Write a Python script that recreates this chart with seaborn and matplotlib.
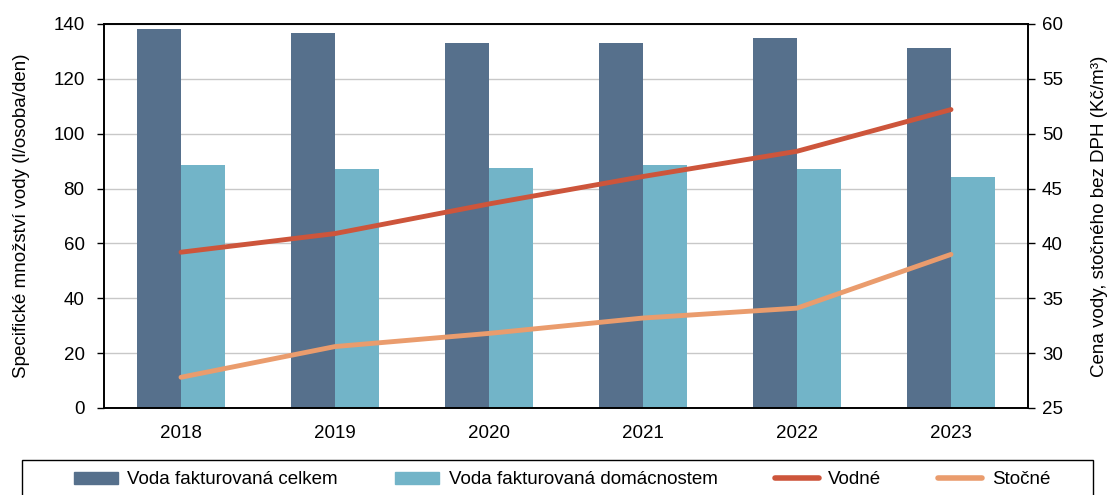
import pandas as pd
import matplotlib
matplotlib.use("Agg")
import matplotlib.pyplot as plt
from matplotlib.ticker import FixedLocator
import seaborn as sns

# data
years = ["2018", "2019", "2020", "2021", "2022", "2023"]
celkem = [138.2, 136.7, 133.0, 133.0, 134.9, 131.2]
domacnosti = [88.6, 87.1, 87.5, 88.6, 87.1, 84.2]
vodne = [39.2, 40.9, 43.6, 46.1, 48.4, 52.2]
stocne = [27.8, 30.6, 31.8, 33.2, 34.1, 39.0]

bar_labels = ["Voda fakturovaná celkem", "Voda fakturovaná domácnostem"]
line_labels = ["Vodné", "Stočné"]
colors = ["#56708C", "#72B4C8", "#CD553B", "#EA9C6D"]

sns.set_theme(style="white")
plt.rcParams['font.family'] = ['Liberation Sans', 'DejaVu Sans']
plt.rcParams['font.size'] = 13.5
plt.rcParams['text.color'] = 'black'
plt.rcParams['axes.labelcolor'] = 'black'
plt.rcParams['xtick.color'] = 'black'
plt.rcParams['ytick.color'] = 'black'

bars = pd.DataFrame({
    "rok": years * 2,
    "hodnota": celkem + domacnosti,
    "serie": [bar_labels[0]] * 6 + [bar_labels[1]] * 6,
})

fig = plt.figure(figsize=(11.15, 4.95), dpi=100)
ax = fig.add_axes([104 / 1115, 1 - 408 / 495, 924 / 1115, 384 / 495])

sns.barplot(data=bars, x="rok", y="hodnota", hue="serie",
            palette=colors[:2], width=0.57, gap=0, saturation=1,
            linewidth=0, ax=ax, legend=False, zorder=2)

ax.set_ylim(0, 140)
ax.set_yticks(range(0, 141, 20))
ax.set_xlim(-0.5, 5.5)
ax.yaxis.grid(True, color="#C8C8C8", lw=1, zorder=0)
ax.set_axisbelow(True)
ax.set_xlabel("")
ax.set_ylabel("Specifické množství vody (l/osoba/den)", fontsize=13.5, labelpad=17)

# x ticks at category borders, labels at centres
ax.xaxis.set_minor_locator(FixedLocator([i - 0.5 for i in range(7)]))
ax.tick_params(axis="x", which="major", length=0, pad=12, labelsize=13.5)
ax.tick_params(axis="x", which="minor", length=5, width=1, direction="out")
ax.tick_params(axis="y", length=5, width=1, direction="out", left=True,
               pad=9, labelsize=13.5)
for s in ax.spines.values():
    s.set_color("black")
    s.set_linewidth(1.2)

ax2 = ax.twinx()
x = list(range(6))
sns.lineplot(x=x, y=vodne, color=colors[2], lw=3.5, ax=ax2, zorder=3)
sns.lineplot(x=x, y=stocne, color=colors[3], lw=3.5, ax=ax2, zorder=3)
ax2.set_ylim(25, 60)
ax2.set_yticks(range(25, 61, 5))
ax2.set_xlim(-0.5, 5.5)
ax2.tick_params(axis="y", length=5, width=1, direction="out", right=True,
                pad=5, labelsize=13.5)
ax2.set_ylabel("Cena vody, stočného bez DPH (Kč/m³)", fontsize=13.5, labelpad=20)
for s in ax2.spines.values():
    s.set_color("black")
    s.set_linewidth(1.2)

# legend: frame drawn separately, entries centred inside it
frame = plt.Rectangle((22 / 1115, -0.05), 1071 / 1115, 0.05 + 35 / 495,
                      transform=fig.transFigure, fill=False,
                      edgecolor="black", linewidth=1)
fig.patches.append(frame)

handles = [plt.Rectangle((0, 0), 1, 1, color=colors[0]),
           plt.Rectangle((0, 0), 1, 1, color=colors[1]),
           plt.Line2D([], [], color=colors[2], lw=4),
           plt.Line2D([], [], color=colors[3], lw=4)]
fig.legend(handles, bar_labels + line_labels, ncol=4,
           loc="center", bbox_to_anchor=(562 / 1115, 1 - 480 / 495),
           frameon=False, fontsize=13.5,
           handlelength=2.35, handleheight=0.6, handletextpad=0.5,
           columnspacing=3.05, borderaxespad=0)

fig.savefig("out.png", dpi=100)
